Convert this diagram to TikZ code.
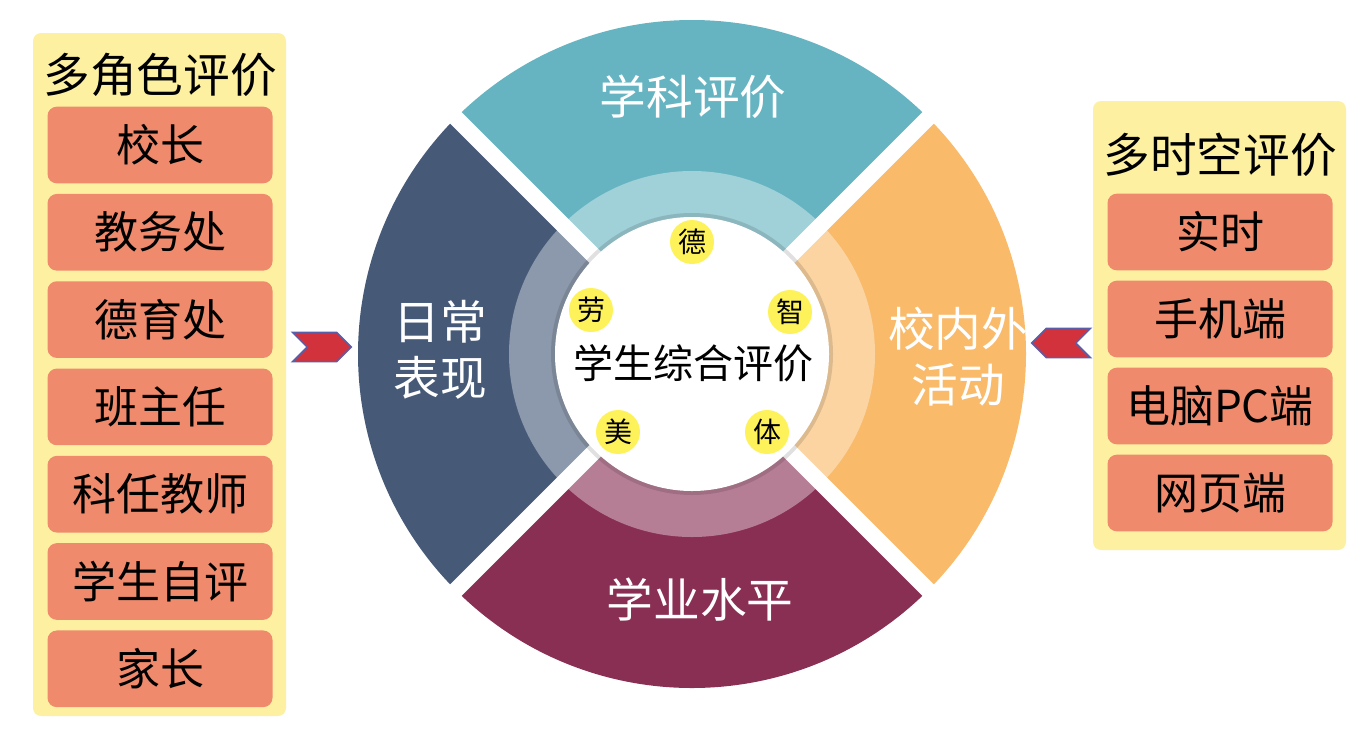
\documentclass[tikz,border=0pt]{standalone}
\usepackage{fontspec}
\setmainfont{Noto Sans CJK SC}
\usetikzlibrary{shapes.symbols}
\definecolor{panelyellow}{HTML}{FDF1A1}
\definecolor{itemsalmon}{HTML}{F08A6C}
\definecolor{segslate}{HTML}{465A78}
\definecolor{segteal}{HTML}{66B4C1}
\definecolor{segorange}{HTML}{F9BA6A}
\definecolor{segmaroon}{HTML}{8A2F54}
\definecolor{dotyellow}{HTML}{FEF25A}
\definecolor{arrowred}{HTML}{D2323C}
\definecolor{arrowblue}{HTML}{5A5DA8}
\tikzset{
  panel/.style={fill=panelyellow, rounded corners=6pt},
  item/.style={fill=itemsalmon, rounded corners=7pt, minimum width=168.75pt, minimum height=57.5pt, inner sep=0pt, font=\fontsize{33}{36}\selectfont},
  paneltitle/.style={font=\fontsize{35}{38}\selectfont},
  seglabel/.style={text=white, align=center, font=\fontsize{35}{42}\selectfont},
  dot/.style={circle, fill=dotyellow, minimum size=33pt, inner sep=0pt, font=\fontsize{21}{22}\selectfont},
  pointer/.style={signal, fill=arrowred, draw=arrowblue, line width=1.2pt, minimum width=44pt, minimum height=22pt, inner sep=0pt}
}

\begin{document}
\begin{tikzpicture}[x=0.75pt, y=-0.75pt]
\useasboundingbox (0,0) rectangle (1370,733);
\coordinate (c) at (692,354);

% ring
\fill[segteal] (c) -- ++(225:334) arc[start angle=225, end angle=315, radius=334] -- cycle;
\fill[segorange] (c) -- ++(-45:334) arc[start angle=-45, end angle=45, radius=334] -- cycle;
\fill[segmaroon] (c) -- ++(45:334) arc[start angle=45, end angle=135, radius=334] -- cycle;
\fill[segslate] (c) -- ++(135:334) arc[start angle=135, end angle=225, radius=334] -- cycle;
\fill[white, opacity=0.38] (c) circle[radius=183];
\foreach \a in {45,135,225,315}
  \draw[white, line width=12pt] (c) -- ++(\a:350);
\fill[black, opacity=0.12] (c) circle[radius=141];
\fill[white] (c) circle[radius=137];

\node[seglabel] (subject) at (693,97) {学科评价};
\node[seglabel] (daily) at (440,350) {日常\\表现};
\node[seglabel] (activity) at (958,357) {校内外\\活动};
\node[seglabel] (level) at (700,600) {学业水平};

\node[font=\fontsize{30}{32}\selectfont] (core) at (693,363) {学生综合评价};
\node[dot] (de) at (692,242) {德};
\node[dot] (zhi) at (790,312) {智};
\node[dot] (ti) at (767,432) {体};
\node[dot] (mei) at (618,432) {美};
\node[dot] (lao) at (591,310) {劳};

% left panel
\fill[panel] (33,33) rectangle (286,716);
\node[paneltitle] (roles) at (160,75) {多角色评价};
\foreach \t [count=\i from 0] in {校长,教务处,德育处,班主任,科任教师,学生自评,家长}
  \node[item] (role\i) at (160,145+87.3*\i) {\t};

% right panel
\fill[panel] (1093,101) rectangle (1346,550);
\node[paneltitle] (times) at (1220,155) {多时空评价};
\foreach \t [count=\i from 0] in {实时,手机端,电脑PC端,网页端}
  \node[item] (time\i) at (1220,232+87*\i) {\t};

\node[pointer, signal from=west, signal to=east] (inL) at (322,347) {};
\node[pointer, signal from=east, signal to=west] (inR) at (1061,343) {};
\end{tikzpicture}
\end{document}
